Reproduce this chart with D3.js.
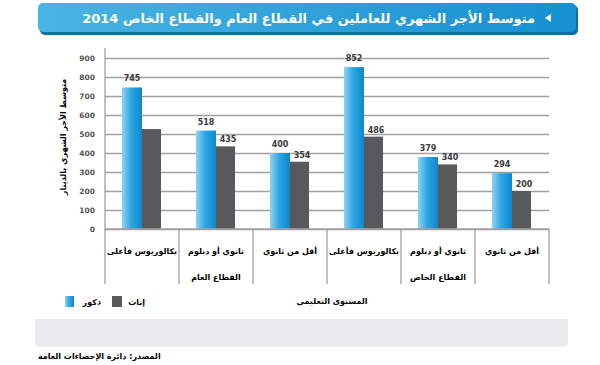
<!DOCTYPE html>
<html>
<head>
<meta charset="utf-8">
<script src="https://cdn.jsdelivr.net/npm/d3@7"></script>
<style>
  body { margin: 0; background: #fff; }
  svg text { font-family: "DejaVu Sans", sans-serif; }
</style>
</head>
<body>
<svg width="600" height="365"></svg>
<script>
// education level per group, and the sector line under groups 2 and 5
var categories = ["بكالوريوس فأعلى", "ثانوي أو دبلوم", "أقل من ثانوي", "بكالوريوس فأعلى", "ثانوي أو دبلوم", "أقل من ثانوي"];
var sectors = ["", "القطاع العام", "", "", "القطاع الخاص", ""];
var males = [745, 518, 400, 852, 379, 294];
var females = [526, 435, 354, 486, 340, 200];
var maleLabels = ["745", "518", "400", "852", "379", "294"];
var femaleLabels = [null, "435", "354", "486", "340", "200"];
var yTicks = [0, 100, 200, 300, 400, 500, 600, 700, 800, 900];

var svg = d3.select("svg");
var defs = svg.append("defs");

var bannerGrad = defs.append("linearGradient").attr("id", "banner");
bannerGrad.append("stop").attr("offset", "0%").attr("stop-color", "#4ab4e3");
bannerGrad.append("stop").attr("offset", "100%").attr("stop-color", "#1590d1");

var barGrad = defs.append("linearGradient").attr("id", "blueBar");
barGrad.append("stop").attr("offset", "0%").attr("stop-color", "#8fd3f2");
barGrad.append("stop").attr("offset", "45%").attr("stop-color", "#2fa6e2");
barGrad.append("stop").attr("offset", "100%").attr("stop-color", "#0a88cf");

// title banner
svg.append("rect")
   .attr("x", 40).attr("y", 5)
   .attr("width", 538).attr("height", 30)
   .attr("rx", 5)
   .attr("fill", "#0b6fa6");
svg.append("rect")
   .attr("x", 38).attr("y", 3)
   .attr("width", 538).attr("height", 29)
   .attr("rx", 5)
   .attr("fill", "url(#banner)");

svg.append("path")
   .attr("d", "M551,14 L551,22 L545,18 Z")
   .attr("fill", "#fff");

svg.append("text")
   .attr("x", 535).attr("y", 23)
   .attr("fill", "#fff")
   .attr("font-size", "13px")
   .attr("font-weight", "bold")
   .attr("text-anchor", "start")
   .style("direction", "rtl")
   .text("متوسط الأجر الشهري للعاملين في القطاع العام والقطاع الخاص 2014");

// plot
var plotLeft = 105, plotRight = 549, plotTop = 58, plotBottom = 229;

var x = d3.scaleBand().domain(d3.range(categories.length)).range([plotLeft, plotRight]).padding(0);
var y = d3.scaleLinear().domain([0, 900]).range([plotBottom, plotTop]);

var grid = svg.append("g")
   .attr("transform", "translate(" + plotLeft + ",0)")
   .call(d3.axisLeft(y).tickValues(yTicks).tickSize(-(plotRight - plotLeft)).tickFormat(function(d) { return d; }));
grid.select(".domain").remove();
grid.selectAll(".tick line").attr("stroke", "#a0a0a0").attr("stroke-width", 1.3);
grid.selectAll(".tick text")
    .attr("x", -10)
    .attr("fill", "#555")
    .attr("font-size", "7.5px")
    .attr("font-weight", "bold")
    .style("font-family", "DejaVu Sans");

// y axis line
svg.append("line")
   .attr("x1", plotLeft).attr("x2", plotLeft)
   .attr("y1", 48).attr("y2", plotBottom)
   .attr("stroke", "#a0a0a0").attr("stroke-width", 1.3);

var barW = 20;
var g = svg.append("g");

g.selectAll(".male")
 .data(males)
 .enter().append("rect")
 .attr("class", "male")
 .attr("x", function(d, i) { return x(i) + x.bandwidth() / 2 - barW; })
 .attr("y", function(d) { return y(d); })
 .attr("width", barW)
 .attr("height", function(d) { return plotBottom - y(d); })
 .attr("fill", "url(#blueBar)");

g.selectAll(".female")
 .data(females)
 .enter().append("rect")
 .attr("class", "female")
 .attr("x", function(d, i) { return x(i) + x.bandwidth() / 2; })
 .attr("y", function(d) { return y(d); })
 .attr("width", barW - 1)
 .attr("height", function(d) { return plotBottom - y(d); })
 .attr("fill", "#58595b");

// value labels
g.selectAll(".mlab")
 .data(males)
 .enter().append("text")
 .attr("class", "mlab")
 .attr("x", function(d, i) { return x(i) + x.bandwidth() / 2 - barW / 2; })
 .attr("y", function(d) { return y(d) - 6; })
 .attr("text-anchor", "middle")
 .attr("font-size", "8px")
 .attr("font-weight", "bold")
 .attr("fill", "#3a3a3a")
 .text(function(d, i) { return maleLabels[i]; });

g.selectAll(".flab")
 .data(females)
 .enter().append("text")
 .attr("class", "flab")
 .attr("x", function(d, i) { return x(i) + x.bandwidth() / 2 + barW / 2 + 2; })
 .attr("y", function(d) { return y(d) - 4; })
 .attr("text-anchor", "middle")
 .attr("font-size", "8px")
 .attr("font-weight", "bold")
 .attr("fill", "#3a3a3a")
 .text(function(d, i) { return femaleLabels[i]; });

// category axis
svg.append("line")
   .attr("x1", plotLeft).attr("x2", plotRight)
   .attr("y1", plotBottom).attr("y2", plotBottom)
   .attr("stroke", "#a0a0a0").attr("stroke-width", 1.3);

svg.selectAll(".divider")
   .data(d3.range(categories.length + 1))
   .enter().append("line")
   .attr("class", "divider")
   .attr("x1", function(i) { return plotLeft + i * x.bandwidth(); })
   .attr("x2", function(i) { return plotLeft + i * x.bandwidth(); })
   .attr("y1", plotBottom)
   .attr("y2", 284)
   .attr("stroke", "#a0a0a0").attr("stroke-width", 1.3);

svg.selectAll(".cat")
   .data(categories)
   .enter().append("text")
   .attr("class", "cat")
   .attr("x", function(d, i) { return x(i) + x.bandwidth() / 2; })
   .attr("y", 254)
   .attr("text-anchor", "middle")
   .attr("font-size", "8px")
   .attr("font-weight", "bold")
   .attr("fill", "#000")
   .text(function(d) { return d; });

svg.selectAll(".sector")
   .data(sectors)
   .enter().append("text")
   .attr("class", "sector")
   .attr("x", function(d, i) { return x(i) + x.bandwidth() / 2; })
   .attr("y", 280)
   .attr("text-anchor", "middle")
   .attr("font-size", "8px")
   .attr("font-weight", "bold")
   .attr("fill", "#000")
   .text(function(d) { return d; });

// y title
svg.append("text")
   .attr("transform", "translate(66,137) rotate(-90)")
   .attr("text-anchor", "middle")
   .attr("font-size", "8px")
   .attr("font-weight", "bold")
   .attr("fill", "#000")
   .text("متوسط الأجر الشهري بالدينار");

// x title
svg.append("text")
   .attr("x", 332).attr("y", 304)
   .attr("text-anchor", "middle")
   .attr("font-size", "8px")
   .attr("font-weight", "bold")
   .attr("fill", "#000")
   .text("المستوى التعليمي");

// legend
svg.append("rect").attr("x", 65).attr("y", 296).attr("width", 9).attr("height", 11).attr("fill", "url(#blueBar)");
svg.append("text").attr("x", 101).attr("y", 305).attr("text-anchor", "end")
   .attr("font-size", "8px").attr("font-weight", "bold").text("ذكور");
svg.append("rect").attr("x", 112).attr("y", 296).attr("width", 10).attr("height", 11).attr("fill", "#58595b");
svg.append("text").attr("x", 145).attr("y", 305).attr("text-anchor", "end")
   .attr("font-size", "8px").attr("font-weight", "bold").text("إناث");

// grey note panel and source
svg.append("path")
   .attr("d", "M35,319 L568,319 L568,341 Q568,347 562,347 L41,347 Q35,347 35,341 Z")
   .attr("fill", "#ebebed");

svg.append("text")
   .attr("x", 38).attr("y", 359)
   .attr("font-size", "8px")
   .attr("font-weight", "bold")
   .attr("fill", "#000")
   .text("المصدر: دائرة الإحصاءات العامة");
</script>
</body>
</html>
